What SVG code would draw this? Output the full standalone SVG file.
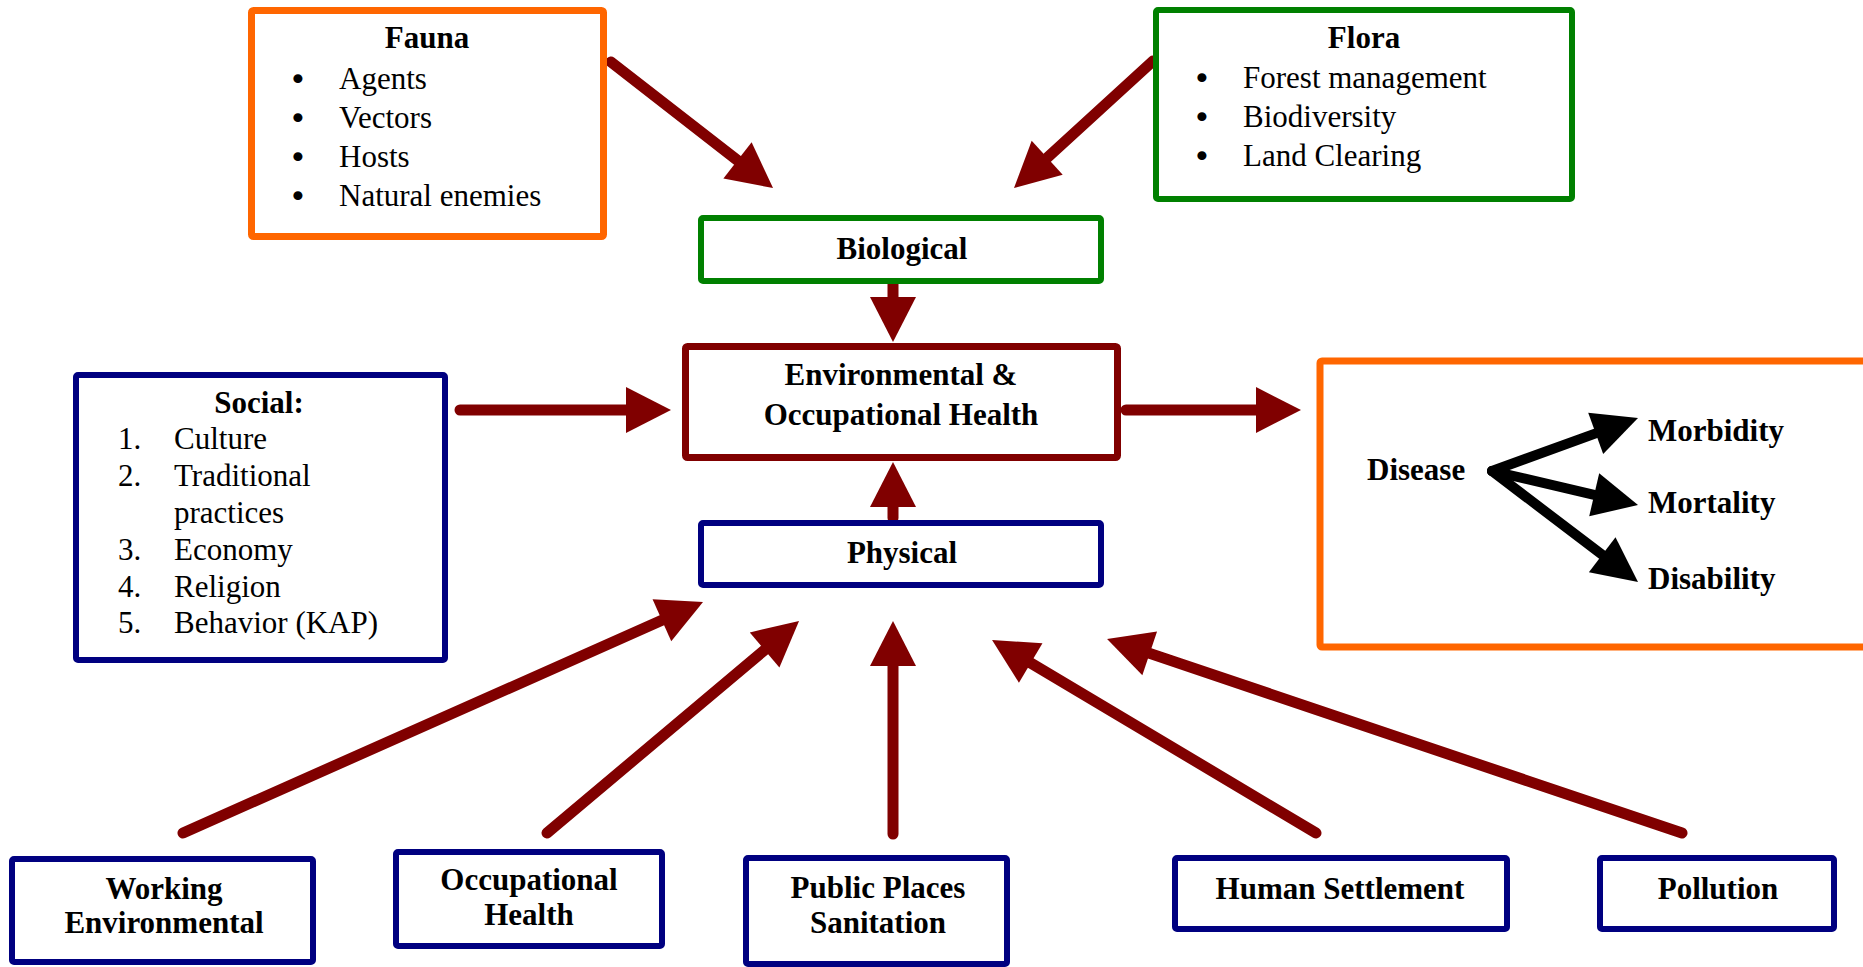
<svg xmlns="http://www.w3.org/2000/svg" width="1863" height="967" viewBox="0 0 1863 967">
  <style>
    .box { fill: #ffffff; stroke-linejoin: round; }
    .orange { stroke: #ff6600; stroke-width: 7; }
    .green { stroke: #008000; stroke-width: 6; }
    .maroon { stroke: #800000; stroke-width: 7; }
    .navy { stroke: #000080; stroke-width: 6; }
    text { font-family: "Liberation Serif", "Times New Roman", serif; font-size: 31px; fill: #000000; }
    .b { font-weight: bold; }
    .c { text-anchor: middle; }
    .bullet { font-family: "DejaVu Sans", sans-serif; font-size: 31px; text-anchor: middle; }
    .link { fill: none; stroke: #800000; stroke-width: 11; stroke-linecap: round; marker-end: url(#redHead); }
    .out { fill: none; stroke: #000000; stroke-width: 10; stroke-linecap: round; marker-end: url(#blackHead); }
  </style>
  <defs>
    <marker id="redHead" markerUnits="userSpaceOnUse" markerWidth="46" markerHeight="46" refX="0" refY="23" orient="auto" overflow="visible">
      <path d="M0,0 L45,23 L0,46 Z" fill="#800000"/>
    </marker>
    <marker id="blackHead" markerUnits="userSpaceOnUse" markerWidth="45" markerHeight="44" refX="0" refY="22" orient="auto" overflow="visible">
      <path d="M0,0 L45,22 L0,44 Z" fill="#000000"/>
    </marker>
  </defs>

  <rect x="0" y="0" width="1863" height="967" fill="#ffffff"/>

  <!-- connectors -->
  <g id="connectors">
    <line class="link" x1="611" y1="62" x2="737.5" y2="160.4"/>
    <line class="link" x1="1153" y1="61" x2="1047.2" y2="157.7"/>
    <line class="link" x1="893" y1="284" x2="893" y2="297"/>
    <line class="link" x1="893" y1="518" x2="893" y2="507"/>
    <line class="link" x1="460" y1="410" x2="626" y2="410"/>
    <line class="link" x1="1126" y1="410" x2="1256" y2="410"/>
    <line class="link" x1="183" y1="833" x2="661.9" y2="620.3"/>
    <line class="link" x1="547" y1="833" x2="764.6" y2="650"/>
    <line class="link" x1="893" y1="834" x2="893" y2="666"/>
    <line class="link" x1="1316" y1="833" x2="1030.7" y2="663"/>
    <line class="link" x1="1682" y1="833" x2="1149.7" y2="653.4"/>
  </g>

  <!-- upper sources -->
  <g id="fauna">
    <rect class="box orange" x="251.5" y="10.5" width="352" height="226" rx="2"/>
    <text class="b c" x="427" y="48">Fauna</text>
    <text class="bullet" x="298" y="90">•</text>
    <text x="339" y="89">Agents</text>
    <text class="bullet" x="298" y="129">•</text>
    <text x="339" y="128">Vectors</text>
    <text class="bullet" x="298" y="168">•</text>
    <text x="339" y="167">Hosts</text>
    <text class="bullet" x="298" y="207">•</text>
    <text x="339" y="206">Natural enemies</text>
  </g>

  <g id="flora">
    <rect class="box green" x="1156" y="10" width="416" height="189" rx="2"/>
    <text class="b c" x="1364" y="48">Flora</text>
    <text class="bullet" x="1202" y="89">•</text>
    <text x="1243" y="88">Forest management</text>
    <text class="bullet" x="1202" y="128">•</text>
    <text x="1243" y="127">Biodiversity</text>
    <text class="bullet" x="1202" y="167">•</text>
    <text x="1243" y="166">Land Clearing</text>
  </g>

  <!-- central column -->
  <g id="biological">
    <rect class="box green" x="701" y="218" width="400" height="63" rx="2"/>
    <text class="b c" x="902" y="259">Biological</text>
  </g>

  <g id="env-occ-health">
    <rect class="box maroon" x="685.5" y="346.5" width="432" height="111" rx="2"/>
    <text class="b c" x="901" y="385">Environmental &amp;</text>
    <text class="b c" x="901" y="425">Occupational Health</text>
  </g>

  <g id="physical">
    <rect class="box navy" x="701" y="523" width="400" height="62" rx="2"/>
    <text class="b c" x="902" y="563">Physical</text>
  </g>

  <g id="social">
    <rect class="box navy" x="76" y="375" width="369" height="285" rx="2"/>
    <text class="b c" x="259" y="413">Social:</text>
    <text x="118" y="449">1.</text>
    <text x="174" y="449">Culture</text>
    <text x="118" y="486">2.</text>
    <text x="174" y="486">Traditional</text>
    <text x="174" y="523">practices</text>
    <text x="118" y="560">3.</text>
    <text x="174" y="560">Economy</text>
    <text x="118" y="597">4.</text>
    <text x="174" y="597">Religion</text>
    <text x="118" y="633">5.</text>
    <text x="174" y="633">Behavior (KAP)</text>
  </g>

  <!-- outcome -->
  <g id="disease">
    <rect class="box orange" x="1320" y="361" width="600" height="286" rx="2"/>
    <text class="b" x="1367" y="480">Disease</text>
    <line class="out" x1="1492" y1="471" x2="1595.7" y2="433.4"/>
    <line class="out" x1="1492" y1="471" x2="1594.2" y2="494.8"/>
    <line class="out" x1="1492" y1="471" x2="1602.2" y2="554.8"/>
    <text class="b" x="1648" y="441">Morbidity</text>
    <text class="b" x="1648" y="513">Mortality</text>
    <text class="b" x="1648" y="589">Disability</text>
  </g>

  <!-- physical factors -->
  <g id="working-environmental">
    <rect class="box navy" x="12" y="859" width="301" height="103" rx="2"/>
    <text class="b c" x="164" y="899">Working</text>
    <text class="b c" x="164" y="933">Environmental</text>
  </g>

  <g id="occupational-health">
    <rect class="box navy" x="396" y="852" width="266" height="94" rx="2"/>
    <text class="b c" x="529" y="890">Occupational</text>
    <text class="b c" x="529" y="925">Health</text>
  </g>

  <g id="public-places-sanitation">
    <rect class="box navy" x="746" y="858" width="261" height="106" rx="2"/>
    <text class="b c" x="878" y="898">Public Places</text>
    <text class="b c" x="878" y="933">Sanitation</text>
  </g>

  <g id="human-settlement">
    <rect class="box navy" x="1175" y="858" width="332" height="71" rx="2"/>
    <text class="b c" x="1340" y="899">Human Settlement</text>
  </g>

  <g id="pollution">
    <rect class="box navy" x="1600" y="858" width="234" height="71" rx="2"/>
    <text class="b c" x="1718" y="899">Pollution</text>
  </g>
</svg>
